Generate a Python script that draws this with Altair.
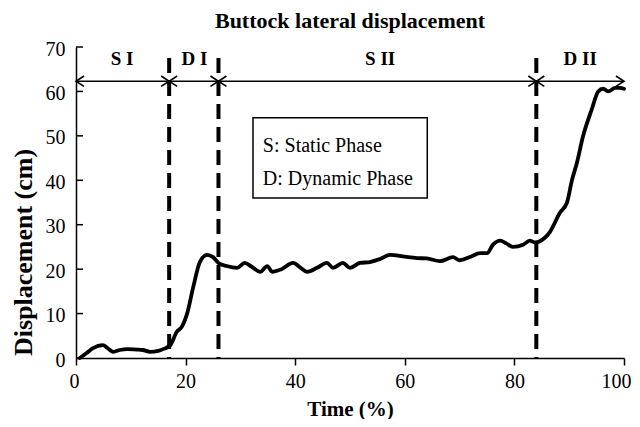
import altair as alt
import pandas as pd

# ---- data ----
time = [0.7, 2.0, 3.1, 4.9, 5.8, 6.8, 8.0, 9.3, 11.0, 12.2, 13.5, 15.0, 15.9, 17.2,
        18.4, 19.3, 20.3, 21.4, 22.6, 23.9, 25.0, 26.0, 27.5, 29.4, 30.8, 32.0,
        33.6, 34.9, 35.8, 37.5, 39.6, 41.0, 42.2, 44.0, 45.8, 46.9, 48.7, 50.0,
        51.8, 53.6, 55.5, 57.3, 60.0, 62.2, 64.0, 66.4, 68.8, 70.0, 72.0, 73.7,
        75.0, 76.1, 77.4, 78.5, 79.7, 81.6, 82.8, 83.8, 85.5, 86.5, 88.3, 89.6,
        90.5, 91.4, 92.5, 94.1, 95.3, 96.2, 97.1, 98.4, 99.3, 100.0]
disp = [0.0, 1.2, 2.2, 2.9, 2.2, 1.4, 1.8, 2.0, 1.9, 1.8, 1.4, 1.6, 2.0, 2.9,
        5.9, 7.0, 10.1, 16.0, 21.6, 23.2, 22.7, 21.4, 20.7, 20.3, 21.4, 20.6,
        19.4, 20.7, 19.4, 20.0, 21.4, 20.3, 19.4, 20.3, 21.4, 20.3, 21.4, 20.3,
        21.4, 21.6, 22.3, 23.2, 22.8, 22.5, 22.4, 21.8, 22.7, 22.0, 22.8, 23.6,
        23.6, 25.5, 26.4, 25.8, 25.0, 25.5, 26.4, 26.0, 27.0, 28.4, 32.7, 35.0,
        40.0, 43.9, 49.8, 55.9, 60.0, 60.6, 60.0, 60.8, 60.8, 60.6]

boundaries = [17, 26, 84]
dash_bottom = 0
dash_top = 67.5
arrow_start = 0
arrow_end = 100
arrow_y = 62.3

phase_labels = ["S I", "D I", "S II", "D II"]
phase_label_x = [8.4, 21.6, 55.5, 92.0]
phase_label_y = 67.3

legend_lines = ["S: Static Phase", "D: Dynamic Phase"]
legend_line_y = [47.8, 40.2]
legend_text_x = 34.1
legend_box_x = [32.3, 64.1]
legend_box_y = [36.0, 54.1]

x_ticks = [0, 20, 40, 60, 80, 100]
y_ticks = [0, 10, 20, 30, 40, 50, 60, 70]

FONT = "Liberation Serif"

# ---- tables ----
curve = pd.DataFrame({"t": time, "d": disp})
dashes = pd.DataFrame({"b": boundaries, "lo": dash_bottom, "hi": dash_top})
arrow = pd.DataFrame({"x0": [arrow_start], "x1": [arrow_end], "y": [arrow_y]})
right_heads = pd.DataFrame({"x": boundaries + [arrow_end], "y": arrow_y})
left_heads = pd.DataFrame({"x": [arrow_start] + boundaries, "y": arrow_y})
phases = pd.DataFrame({"x": phase_label_x, "y": phase_label_y, "label": phase_labels})
legend_txt = pd.DataFrame({"x": legend_text_x, "y": legend_line_y, "label": legend_lines})
legend_box = pd.DataFrame({"x0": [legend_box_x[0]], "x1": [legend_box_x[1]],
                           "y0": [legend_box_y[0]], "y1": [legend_box_y[1]]})
yt = pd.DataFrame({"v": y_ticks})

xs = alt.Scale(domain=[0, 100], nice=False, zero=False)
ys = alt.Scale(domain=[0, 70], nice=False, zero=False)

xaxis = alt.Axis(values=x_ticks, title="Time (%)", tickSize=7, labelPadding=6,
                 titlePadding=7, labelFlush=True, labelFlushOffset=7,
                 titleFontSize=21)
yaxis = alt.Axis(values=y_ticks, title="Displacement (cm)", tickSize=0,
                 labelPadding=11, titlePadding=9, labelFlush=False,
                 labelOffset=2, titleFontSize=26, titleY=205)

line = alt.Chart(curve).mark_line(color="black", strokeWidth=3.8,
                                  interpolate="monotone", strokeJoin="round",
                                  strokeCap="round").encode(
    x=alt.X("t:Q", scale=xs, axis=xaxis),
    y=alt.Y("d:Q", scale=ys, axis=yaxis),
)

dash_layer = alt.Chart(dashes).mark_rule(color="black", strokeWidth=4,
                                         strokeDash=[15, 8]).encode(
    x=alt.X("b:Q", scale=xs),
    y=alt.Y("hi:Q", scale=ys),
    y2="lo:Q",
)

arrow_layer = alt.Chart(arrow).mark_rule(color="black", strokeWidth=1.6).encode(
    x=alt.X("x0:Q", scale=xs), x2="x1:Q", y=alt.Y("y:Q", scale=ys)
)

rh = alt.Chart(right_heads).mark_point(shape="M-1,-0.65L0,0L-1,0.65", size=256,
                                       filled=False, color="black",
                                       strokeWidth=1.6, opacity=1).encode(
    x=alt.X("x:Q", scale=xs), y=alt.Y("y:Q", scale=ys)
)
lh = alt.Chart(left_heads).mark_point(shape="M1,-0.65L0,0L1,0.65", size=256,
                                      filled=False, color="black",
                                      strokeWidth=1.6, opacity=1).encode(
    x=alt.X("x:Q", scale=xs), y=alt.Y("y:Q", scale=ys)
)

phase_layer = alt.Chart(phases).mark_text(font=FONT, fontSize=19, fontWeight="bold",
                                          color="black").encode(
    x=alt.X("x:Q", scale=xs), y=alt.Y("y:Q", scale=ys), text="label:N"
)

box_layer = alt.Chart(legend_box).mark_rect(fill="white", stroke="black",
                                            strokeWidth=1.5).encode(
    x=alt.X("x0:Q", scale=xs), x2="x1:Q",
    y=alt.Y("y0:Q", scale=ys), y2="y1:Q",
)

legend_layer = alt.Chart(legend_txt).mark_text(font=FONT, fontSize=20, align="left",
                                               color="black").encode(
    x=alt.X("x:Q", scale=xs), y=alt.Y("y:Q", scale=ys), text="label:N"
)

ytick_layer = alt.Chart(yt).mark_rule(color="black", strokeWidth=1.5).encode(
    y=alt.Y("v:Q", scale=ys), x=alt.value(0), x2=alt.value(7)
)

chart = alt.layer(
    box_layer, legend_layer, dash_layer, arrow_layer, rh, lh, phase_layer,
    ytick_layer, line,
).properties(
    width=548, height=311,
    autosize="none",
    background="white",
    padding={"left": 68, "top": 39, "right": 8, "bottom": 61},
    title=alt.TitleParams("Buttock lateral displacement", font=FONT, fontSize=22,
                          fontWeight="bold", color="black", offset=6),
).configure_view(stroke=None).configure_axis(
    grid=False, domainColor="black", domainWidth=1.5, tickColor="black",
    tickWidth=1.5, labelFont=FONT, labelFontSize=20, labelColor="black",
    titleFont=FONT, titleFontWeight="bold", titleColor="black",
)

chart.save("out.html", embed_options={"renderer": "svg", "actions": False})
